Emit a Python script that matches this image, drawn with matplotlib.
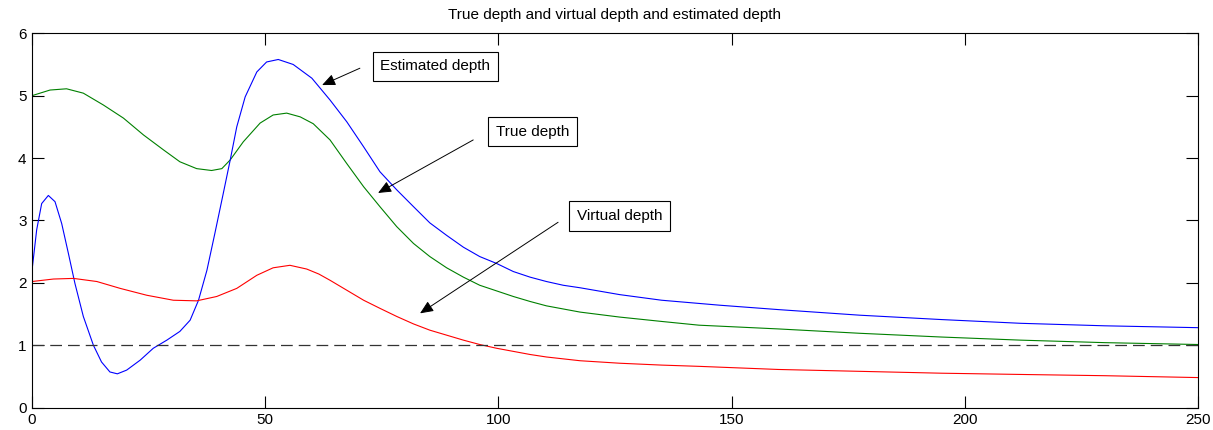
import matplotlib.pyplot as plt

plt.rcParams['font.family'] = ['Liberation Sans', 'DejaVu Sans']

# estimated depth (blue)
est_x = [0, 1.0, 2.07, 3.5, 4.93, 6.36, 7.8, 9.2, 11.0, 13.15, 14.9, 16.7, 18.3, 20.3,
         23.2, 26.0, 28.9, 31.7, 33.9, 35.7, 37.5, 39.2, 41.0, 42.5, 43.9, 45.7, 48.2,
         50.3, 52.8, 56.0, 60.0, 63.9, 67.5, 71.1, 74.6, 78.2, 81.8, 85.3, 88.9, 92.5,
         96.0, 99.6, 103.2, 106.8, 110.3, 113.9, 117.5, 126, 135, 147.5, 160, 177.5,
         195, 212, 230, 250]
est_y = [2.2, 2.85, 3.27, 3.40, 3.30, 2.95, 2.47, 1.99, 1.46, 1.00, 0.73, 0.57, 0.54, 0.60,
         0.76, 0.95, 1.08, 1.22, 1.40, 1.72, 2.20, 2.79, 3.43, 3.97, 4.50, 4.98, 5.38,
         5.54, 5.58, 5.50, 5.28, 4.93, 4.58, 4.18, 3.78, 3.49, 3.22, 2.96, 2.76, 2.57,
         2.42, 2.31, 2.18, 2.09, 2.02, 1.96, 1.92, 1.81, 1.72, 1.64, 1.57, 1.48,
         1.41, 1.35, 1.31, 1.28]

# true depth (green)
true_x = [0, 3.86, 7.4, 11.0, 15.3, 19.6, 23.9, 28.2, 31.7, 35.3, 38.5, 40.7, 42.5, 45.3,
          48.9, 51.7, 54.6, 57.5, 60.3, 63.9, 67.5, 71.1, 74.6, 78.2, 81.8, 85.3, 88.9,
          92.5, 96.0, 99.6, 103.2, 106.8, 110.3, 113.9, 117.5, 126, 135, 143, 160, 177.5,
          195, 212, 230, 250]
true_y = [5.0, 5.09, 5.11, 5.04, 4.85, 4.64, 4.37, 4.13, 3.94, 3.83, 3.80, 3.83, 3.97, 4.26,
          4.56, 4.69, 4.72, 4.66, 4.55, 4.29, 3.91, 3.54, 3.22, 2.90, 2.63, 2.42, 2.24,
          2.09, 1.96, 1.87, 1.78, 1.70, 1.63, 1.58, 1.53, 1.45, 1.38, 1.32, 1.26, 1.19,
          1.13, 1.08, 1.04, 1.01]

# virtual depth (red)
virt_x = [0, 4.6, 8.9, 13.9, 18.9, 24.6, 30.3, 35.3, 39.6, 43.9, 48.2, 51.7, 55.3, 58.9,
          61.5, 63.9, 67.5, 71.1, 74.6, 78.2, 81.8, 85.3, 88.9, 92.5, 96.0, 99.6, 103.2,
          106.8, 110.3, 113.9, 117.5, 126, 135, 143, 160, 177.5, 195, 212, 230, 250]
virt_y = [2.02, 2.06, 2.07, 2.02, 1.91, 1.80, 1.72, 1.71, 1.78, 1.91, 2.12, 2.24, 2.28, 2.22,
          2.14, 2.04, 1.88, 1.72, 1.59, 1.46, 1.34, 1.24, 1.16, 1.08, 1.01, 0.95, 0.90,
          0.85, 0.81, 0.78, 0.75, 0.71, 0.68, 0.66, 0.61, 0.58, 0.55, 0.53, 0.51, 0.48]

ref_level = 1

fig = plt.figure(figsize=(12.13, 4.30), dpi=100)
ax = fig.add_axes([0.0264, 0.0523, 0.9612, 0.8703])

ax.plot(true_x, true_y, color=(0, 0.5, 0), lw=0.8)
ax.plot(est_x, est_y, color='b', lw=0.8)
ax.plot(virt_x, virt_y, color='r', lw=0.8)
ax.axhline(ref_level, color='#333333', lw=0.9, dashes=(9.4, 4.8))

ax.set_xlim(0, 250)
ax.set_ylim(0, 6)
ax.set_xticks(range(0, 251, 50))
ax.set_yticks(range(0, 7))
ax.tick_params(direction='in', length=8.5, width=0.8, top=True, right=True,
               labelsize=11, pad=4)
for s in ax.spines.values():
    s.set_linewidth(0.8)
ax.set_title('True depth and virtual depth and estimated depth', fontsize=11, pad=10)

box = dict(boxstyle='square,pad=0.5', facecolor='white', edgecolor='black', lw=0.8)
arrow = dict(arrowstyle='-|>,head_length=0.8,head_width=0.35', color='black', lw=0.7,
             shrinkA=0, shrinkB=0)

# (label, box centre x, box centre y, arrow tail, arrow tip)
notes = [
    ('Estimated depth', 86.5, 5.47, (70.3, 5.44), (62.2, 5.17)),
    ('True depth', 107.3, 4.42, (94.6, 4.29), (74.2, 3.44)),
    ('Virtual depth', 126.0, 3.07, (112.8, 2.97), (83.2, 1.51)),
]
for label, tx, ty, tail, tip in notes:
    ax.text(tx, ty, label, fontsize=11, ha='center', va='center', bbox=box)
    ax.annotate('', xy=tip, xytext=tail, arrowprops=arrow)

fig.savefig('out.png', dpi=100)
